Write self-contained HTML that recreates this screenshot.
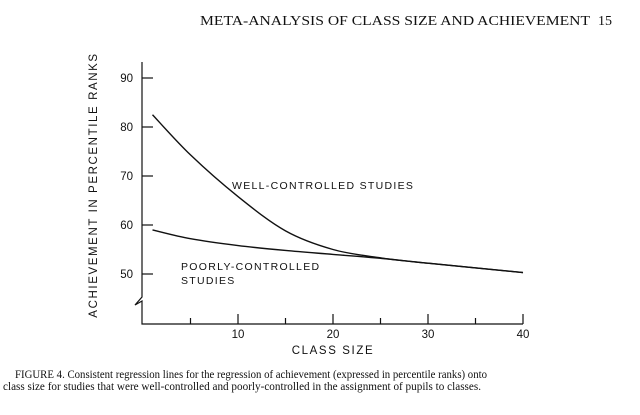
<!DOCTYPE html>
<html><head><meta charset="utf-8"><style>
body{margin:0;background:#fff}
svg{display:block}
.s{font-family:"Liberation Sans",sans-serif;fill:#111}
.r{font-family:"Liberation Serif",serif;fill:#111}
</style></head><body>
<svg id="c" width="640" height="415" viewBox="0 0 640 415">
<text class="r" x="200" y="25" font-size="14" textLength="390" lengthAdjust="spacingAndGlyphs">META-ANALYSIS OF CLASS SIZE AND ACHIEVEMENT</text>
<text class="r" x="598" y="25" font-size="14">15</text>
<text class="r" x="15" y="378" font-size="11.5" textLength="472" lengthAdjust="spacingAndGlyphs">FIGURE 4.  Consistent regression lines for the regression of achievement (expressed in percentile ranks) onto</text>
<text class="r" x="3" y="390" font-size="11.5" textLength="478" lengthAdjust="spacingAndGlyphs">class size for studies that were well-controlled and poorly-controlled in the assignment of pupils to classes.</text>
<text class="s" transform="translate(97,185) rotate(-90)" text-anchor="middle" font-size="11.5" letter-spacing="1.6">ACHIEVEMENT IN PERCENTILE RANKS</text>
<text class="s" x="333" y="354" text-anchor="middle" font-size="11.5" letter-spacing="1.6">CLASS SIZE</text>
<text class="s" x="232" y="189" font-size="10.5" letter-spacing="1.3">WELL-CONTROLLED STUDIES</text>
<text class="s" x="181" y="270" font-size="10.5" letter-spacing="1.3">POORLY-CONTROLLED</text>
<text class="s" x="181" y="284" font-size="10.5" letter-spacing="1.3">STUDIES</text>
<g id="axes" stroke="#111" stroke-width="1.2" fill="none"></g>
<g id="series" stroke="#111" stroke-width="1.4" fill="none"></g>
</svg>
<script>
const xTicks=[5,10,15,20,25,30,35,40];
const xLabels=[10,20,30,40];
const yTicks=[50,60,70,80,90];
const sizes=[1,5,10,15,20,25,30,40];
const wellValues=[82.5,74.3,65.8,58.8,55,53.3,52.2,50.3];
const poorValues=[59,57.2,55.8,54.8,54,53.2,52.2,50.3];
const NS='http://www.w3.org/2000/svg';
const X=v=>143+9.5*v, Y=v=>274-4.9*(v-50);
const ax=document.getElementById('axes'), sv=document.getElementById('series'), svg=document.getElementById('c');
function mk(p,tag,attrs){const e=document.createElementNS(NS,tag);for(const k in attrs)e.setAttribute(k,attrs[k]);p.appendChild(e);return e;}
let a=mk(ax,'path',{d:`M142 62 V297 L135 305 L142 301 V324 H${X(40)}`});


yTicks.forEach(v=>{
 const l=mk(ax,'line',{x1:142,x2:153,y1:Y(v),y2:Y(v)});
 
 
 const t=mk(svg,'text',{x:133,y:Y(v)+4,'text-anchor':'end','font-size':11.5,class:'s'});t.textContent=v;
 
 
});
xTicks.forEach(v=>{
 const l=mk(ax,'line',{x1:X(v),x2:X(v),y1:324,y2:v%10?318:314});
 
 
});
xLabels.forEach(v=>{
 const t=mk(svg,'text',{x:X(v),y:338,'text-anchor':'middle','font-size':11.5,class:'s'});t.textContent=v;
 
 
});
function spline(xs,ys){
 const p=xs.map((x,i)=>[X(x),Y(ys[i])]);let d=`M${p[0][0]} ${p[0][1]}`;
 for(let i=0;i<p.length-1;i++){const p0=p[i-1]||p[i],p1=p[i],p2=p[i+1],p3=p[i+2]||p2;
  d+=` C${p1[0]+(p2[0]-p0[0])/6} ${p1[1]+(p2[1]-p0[1])/6} ${p2[0]-(p3[0]-p1[0])/6} ${p2[1]-(p3[1]-p1[1])/6} ${p2[0]} ${p2[1]}`;}
 return d;}
const w=mk(sv,'path',{d:spline(sizes,wellValues)});


const pc=mk(sv,'path',{d:spline(sizes,poorValues)});


</script>
</body></html>
